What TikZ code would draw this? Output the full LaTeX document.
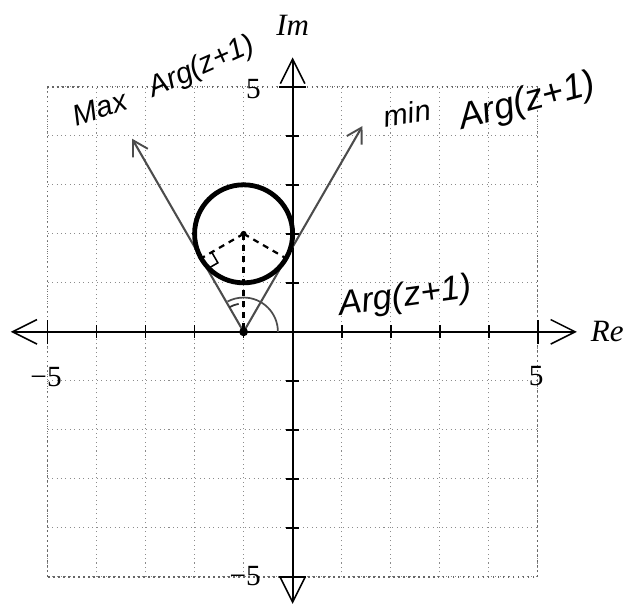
\documentclass[tikz,border=0pt]{standalone}
\usepackage{fontspec}
\setmainfont{Liberation Serif}
\newfontfamily\handfont{Liberation Sans}
\usetikzlibrary{arrows.meta}
\begin{document}
\begin{tikzpicture}[x=1cm,y=1cm,
  gridline/.style={black!45, dotted, line width=0.6pt},
  gridframe/.style={black!60, dotted, line width=0.9pt},
  axisline/.style={line width=1.1pt, {Straight Barb[length=5mm,width=5mm,line width=0.9pt]}-{Straight Barb[length=5mm,width=5mm,line width=0.9pt]}},
  tickmark/.style={line width=1pt},
  tangentline/.style={black!70, line width=1.2pt, -{Straight Barb[length=3mm,width=3.5mm,line width=1.1pt]}},
  radiusline/.style={black, line width=1.3pt, dash pattern=on 3.5pt off 3pt},
  numlabel/.style={font=\fontsize{17}{17}\selectfont, inner sep=0pt},
  axlabel/.style={font=\fontsize{18}{18}\selectfont\itshape, inner sep=0pt},
  handlabel/.style={font=\fontsize{17}{17}\selectfont\handfont\itshape, inner sep=0pt},
  bighand/.style={font=\fontsize{20}{20}\selectfont\handfont\itshape, inner sep=0pt}
]
\useasboundingbox (-5.97,-5.60) rectangle (6.74,6.77);
% grid
\draw[gridline] (-5,-5) grid (5,5);
\draw[gridframe] (-5,-5) rectangle (5,5);
% axes
\coordinate (XL) at (-5.75,0);
\coordinate (XR) at (5.8,0);
\coordinate (YB) at (0,-5.55);
\coordinate (YT) at (0,5.6);
\draw[axisline] (XL) -- (XR);
\draw[axisline] (YB) -- (YT);
\foreach \k in {-4,-3,-2,-1,1,2,3,4}{
  \draw[tickmark] (\k,-0.13) -- (\k,0.13);
  \draw[tickmark] (-0.13,\k) -- (0.13,\k);
}
\foreach \k in {-5,5}{
  \draw[tickmark] (\k,-0.25) -- (\k,0.25);
  \draw[tickmark] (-0.28,\k) -- (0.28,\k);
}
% axis labels
\node[axlabel] (im) at (0,6.26) {Im};
\node[axlabel] (re) at (6.42,0) {Re};
\node[numlabel] (n5t) at (-0.8,4.95) {5};
\node[numlabel] (n5r) at (4.97,-0.91) {5};
\node[numlabel] (n5l) at (-5.03,-0.93) {−5};
\node[numlabel] (n5b) at (-0.97,-4.99) {−5};
% geometry
\coordinate (P) at (-1,0);
\coordinate (C) at (-1,2);
\coordinate (T1) at (-1.866,1.5);
\coordinate (T2) at (-0.134,1.5);
\coordinate (Amax) at (-3.275,3.94);
\coordinate (Amin) at (1.425,4.2);
\draw[tangentline] (P) -- (Amax);
\draw[tangentline] (P) -- (Amin);
\draw[line width=2.8pt] (C) circle (1);
\draw[radiusline] (C) -- (P);
\draw[radiusline] (C) -- (T1);
\draw[radiusline] (C) -- (T2);
% right angle mark
\draw[line width=0.9pt] (-1.65,1.625) -- (-1.5245,1.4085) -- (-1.741,1.2835);
% angle arcs
\draw[black!70, line width=1pt] (-0.3,0) arc[start angle=0, end angle=118, radius=0.7];
\draw[black!80, line width=1pt] (-1.10,0.571) arc[start angle=100, end angle=120, radius=0.58];
% points
\fill (P) circle (0.09);
\fill (C) circle (0.06);
% handwritten labels
\node[handlabel, rotate=18] (maxw) at (-3.93,4.56) {Max};
\node[handlabel, rotate=24] (maxarg) at (-1.85,5.40) {Arg(z+1)};
\node[handlabel, rotate=10] (minw) at (2.34,4.46) {min};
\node[bighand, font=\fontsize{21}{21}\selectfont\handfont\itshape, rotate=15] (minarg) at (4.79,4.68) {Arg(z+1)};
\node[bighand, rotate=8] (arg) at (2.30,0.70) {Arg(z+1)};
\end{tikzpicture}
\end{document}
